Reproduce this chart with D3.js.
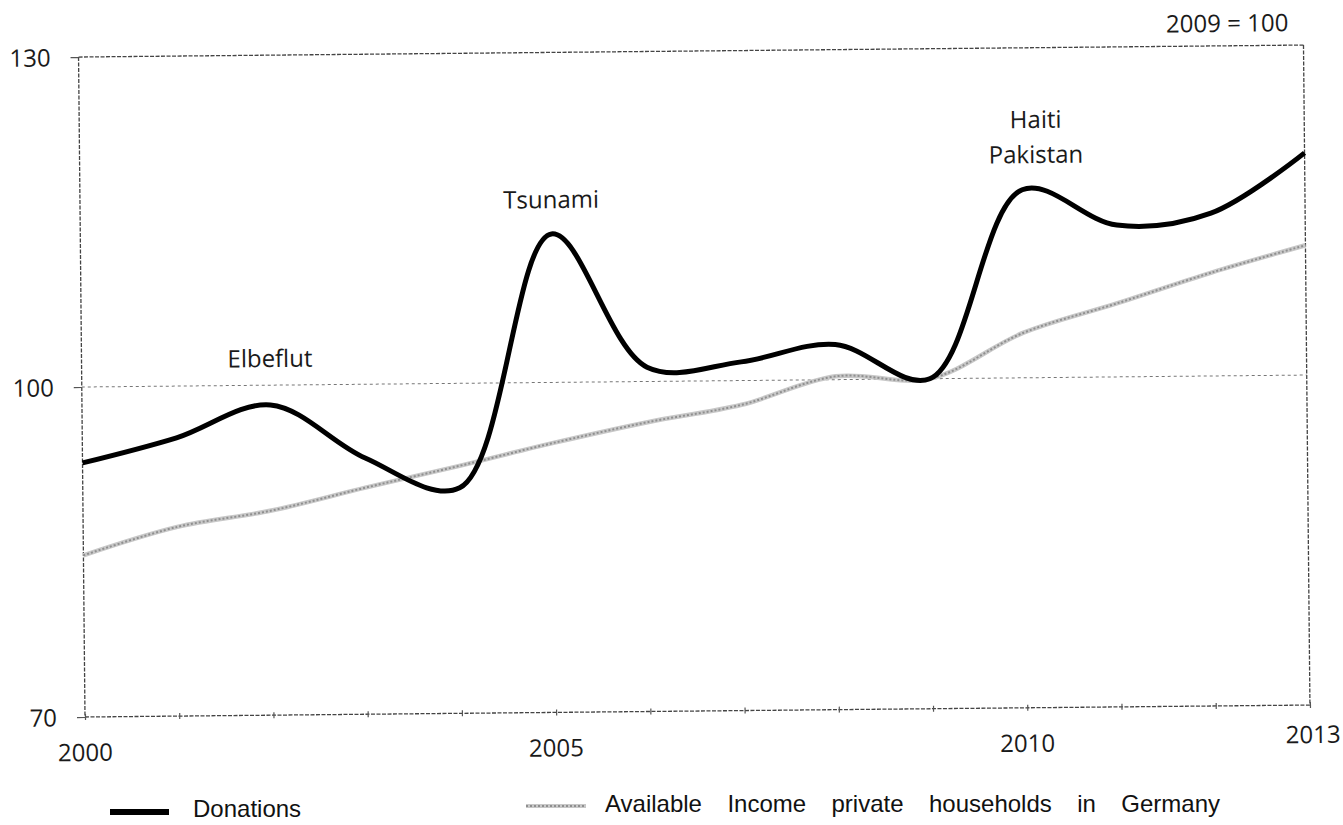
<!DOCTYPE html>
<html>
<head>
<meta charset="utf-8">
<script src="https://cdn.jsdelivr.net/npm/d3@7"></script>
<style>
  body { margin: 0; background: #fff; }
  .lbl { font-family: "Open Sans", "DejaVu Sans Condensed", sans-serif; font-size: 24px; fill: #1a1a1a; }
  .legend { font-family: "Liberation Sans", Arial, sans-serif; font-size: 24px; fill: #111; }
</style>
</head>
<body>
<div id="chart"></div>
<script>
const years = [2000, 2001, 2002, 2003, 2004, 2005, 2006, 2007, 2008, 2009, 2010, 2011, 2012, 2013];
const donations = [93.1, 95.3, 98.2, 93.3, 90.5, 113.5, 101.3, 101.7, 103.2, 100, 117.1, 113.8, 114.8, 120.2];
const income = [84.7, 87.2, 88.6, 90.6, 92.5, 94.5, 96.3, 97.8, 100.3, 100, 104.1, 106.7, 109.4, 111.8];
const yTicks = [70, 100, 130];
const xLabels = [2000, 2005, 2010, 2013];
const events = [
  { year: 2002, value: 101.65, lines: ["Elbeflut"] },
  { year: 2005, value: 115.85, lines: ["Tsunami"] },
  { year: 2010.15, value: 122.7, lines: ["Haiti", "Pakistan"] }
];

const width = 1343, height = 825;
const margin = { top: 57, right: 33, bottom: 108, left: 85 };

const svg = d3.select('#chart').append('svg')
  .attr('width', width)
  .attr('height', height);

const x = d3.scaleLinear()
  .domain([2000, 2013])
  .range([margin.left, width - margin.right]);

const y = d3.scaleLinear()
  .domain([70, 130])
  .range([height - margin.bottom, margin.top]);

// the scan is tilted a little, so the plot is too
const g = svg.append('g')
  .attr('transform', `rotate(-0.56, ${x(2000)}, ${y(70)})`);

// frame
const frame = g.append('g')
  .attr('stroke', '#444')
  .attr('stroke-width', 1.3)
  .attr('stroke-dasharray', '4,1.5')
  .attr('fill', 'none');

frame.append('line').attr('x1', x(2000)).attr('x2', x(2013)).attr('y1', y(130)).attr('y2', y(130));
frame.append('line').attr('x1', x(2000)).attr('x2', x(2013)).attr('y1', y(70)).attr('y2', y(70));
frame.append('line').attr('x1', x(2000)).attr('x2', x(2000)).attr('y1', y(130)).attr('y2', y(70));
frame.append('line').attr('x1', x(2013)).attr('x2', x(2013)).attr('y1', y(130)).attr('y2', y(70));

g.append('line')
  .attr('x1', x(2000)).attr('x2', x(2013))
  .attr('y1', y(100)).attr('y2', y(100))
  .attr('stroke', '#777')
  .attr('stroke-width', 1)
  .attr('stroke-dasharray', '3,3');

// axes
const xAxis = d3.axisBottom(x)
  .tickValues(years)
  .tickSize(6)
  .tickFormat('');

g.append('g')
  .attr('transform', `translate(0, ${y(70) - 3})`)
  .call(xAxis)
  .call(a => a.select('.domain').remove())
  .call(a => a.selectAll('.tick line').attr('stroke', '#555').attr('stroke-width', 1.2));

const yAxis = d3.axisLeft(y)
  .tickValues(yTicks)
  .tickSize(8)
  .tickPadding(20)
  .tickFormat(d3.format('d'));

g.append('g')
  .attr('transform', `translate(${x(2000)}, 0)`)
  .call(yAxis)
  .call(a => a.select('.domain').remove())
  .call(a => a.selectAll('.tick line').attr('stroke', '#555').attr('stroke-width', 1.2))
  .call(a => a.selectAll('.tick text').attr('class', 'lbl').attr('dy', '0.36em'));

g.selectAll('.xlbl')
  .data(xLabels)
  .join('text')
  .attr('class', 'lbl xlbl')
  .attr('x', d => x(d) + (d === 2013 ? 3 : 0))
  .attr('y', d => y(70) + (d === 2013 ? 38 : 44))
  .attr('text-anchor', 'middle')
  .text(d => d);

g.append('text')
  .attr('class', 'lbl')
  .attr('x', x(2013) - 15)
  .attr('y', y(130) - 14)
  .attr('text-anchor', 'end')
  .text('2009 = 100');

// lines
const line = d3.line()
  .x((d, i) => x(years[i]))
  .y(d => y(d))
  .curve(d3.curveCatmullRom.alpha(0.5));

g.append('path')
  .datum(income)
  .attr('d', line)
  .attr('fill', 'none')
  .attr('stroke', '#c8c8c8')
  .attr('stroke-width', 4.5);

g.append('path')
  .datum(income)
  .attr('d', line)
  .attr('fill', 'none')
  .attr('stroke', '#8f8f8f')
  .attr('stroke-width', 2)
  .attr('stroke-dasharray', '2,2');

g.append('path')
  .datum(donations)
  .attr('d', line)
  .attr('fill', 'none')
  .attr('stroke', '#000')
  .attr('stroke-width', 5)
  .attr('stroke-linejoin', 'round');

// event annotations
events.forEach(ev => {
  const t = g.append('text')
    .attr('class', 'lbl')
    .attr('text-anchor', 'middle')
    .attr('x', x(ev.year))
    .attr('y', y(ev.value));
  ev.lines.forEach((l, i) => {
    t.append('tspan')
      .attr('x', x(ev.year))
      .attr('dy', i === 0 ? 0 : 35)
      .text(l);
  });
});

// legend
const legend = svg.append('g');

legend.append('line')
  .attr('x1', 110).attr('x2', 169)
  .attr('y1', 812).attr('y2', 812)
  .attr('stroke', '#000')
  .attr('stroke-width', 6);

legend.append('text')
  .attr('class', 'legend')
  .attr('x', 193)
  .attr('y', 817)
  .text('Donations');

legend.append('line')
  .attr('x1', 526).attr('x2', 586)
  .attr('y1', 806).attr('y2', 806)
  .attr('stroke', '#c8c8c8')
  .attr('stroke-width', 4);

legend.append('line')
  .attr('x1', 526).attr('x2', 586)
  .attr('y1', 806).attr('y2', 806)
  .attr('stroke', '#8f8f8f')
  .attr('stroke-width', 1.8)
  .attr('stroke-dasharray', '2,2');

const incomeText = legend.append('text')
  .attr('class', 'legend')
  .attr('x', 605)
  .attr('y', 812)
  .text('Available Income private households in Germany');

// the original spreads the words out a bit
const natural = incomeText.node().getComputedTextLength();
incomeText.attr('word-spacing', Math.max(0, (615 - natural) / 5));
</script>
</body>
</html>
